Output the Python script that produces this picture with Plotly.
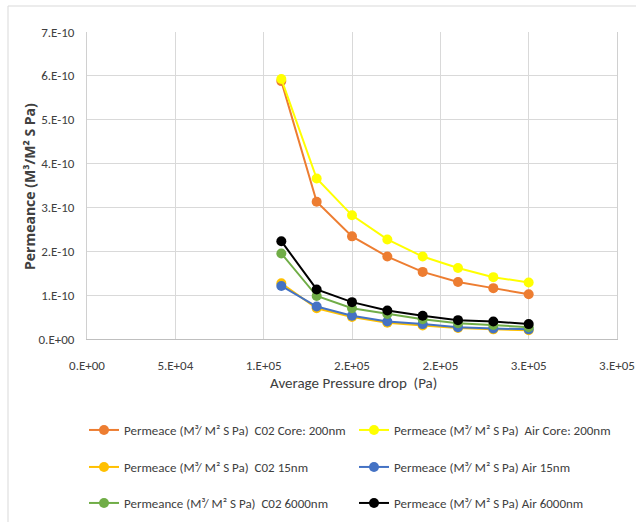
import plotly.graph_objects as go

# ---- data ----
pressure_pa = [110000, 130000, 150000, 170000, 190000, 210000, 230000, 250000]

co2_core_200 = [5.88e-10, 3.13e-10, 2.34e-10, 1.88e-10, 1.53e-10, 1.30e-10, 1.16e-10, 1.02e-10]
air_core_200 = [5.93e-10, 3.66e-10, 2.82e-10, 2.27e-10, 1.88e-10, 1.62e-10, 1.41e-10, 1.29e-10]
co2_15 = [1.27e-10, 0.70e-10, 0.50e-10, 0.37e-10, 0.31e-10, 0.25e-10, 0.22e-10, 0.20e-10]
air_15 = [1.21e-10, 0.74e-10, 0.53e-10, 0.40e-10, 0.34e-10, 0.27e-10, 0.24e-10, 0.22e-10]
co2_6000 = [1.95e-10, 0.98e-10, 0.70e-10, 0.57e-10, 0.45e-10, 0.36e-10, 0.32e-10, 0.27e-10]
air_6000 = [2.23e-10, 1.13e-10, 0.84e-10, 0.65e-10, 0.53e-10, 0.43e-10, 0.40e-10, 0.34e-10]

series_names = [
    "Permeace (M³/ M² S Pa)  C02 Core: 200nm",
    "Permeace (M³/ M² S Pa)  Air Core: 200nm",
    "Permeace (M³/ M² S Pa)  C02 15nm",
    "Permeace (M³/ M² S Pa) Air 15nm",
    "Permeance (M³/ M² S Pa)  C02 6000nm",
    "Permeace (M³/ M² S Pa) Air 6000nm",
]
series_values = [co2_core_200, air_core_200, co2_15, air_15, co2_6000, air_6000]
series_colors = ["#ED7D31", "#FFFF00", "#FFC000", "#4472C4", "#70AD47", "#000000"]
series_legends = ["legend", "legend", "legend2", "legend2", "legend3", "legend3"]

x_tickvals = [0, 50000, 100000, 150000, 200000, 250000, 300000]
x_ticktext = ["0.E+00", "5.E+04", "1.E+05", "2.E+05", "2.E+05", "3.E+05", "3.E+05"]
y_tickvals = [0, 1e-10, 2e-10, 3e-10, 4e-10, 5e-10, 6e-10, 7e-10]
y_ticktext = ["0.E+00", "1.E-10", "2.E-10", "3.E-10", "4.E-10", "5.E-10", "6.E-10", "7.E-10"]

x_title = "Average Pressure drop  (Pa)"
y_title = "<b>Permeance (M³/M² S Pa)</b>"

FONT = "Carlito, 'Liberation Sans Narrow', Lato, sans-serif"
TXT = "#404040"

fig = go.Figure()
for name, vals, col, lg in zip(series_names, series_values, series_colors, series_legends):
    fig.add_trace(go.Scatter(
        x=pressure_pa, y=vals, name=name, mode="lines+markers",
        line=dict(color=col, width=2),
        marker=dict(color=col, size=10),
        legend=lg,
    ))

W, H = 636, 522
L, R, T, B = 87, 19, 32, 183
pw, ph = W - L - R, H - T - B

def px2py(y):
    return (H - B - y) / ph

def px2px(x):
    return (x - L) / pw

legend_common = dict(
    orientation="h", xanchor="left", yanchor="middle",
    x=px2px(84), bgcolor="rgba(0,0,0,0)",
    font=dict(family=FONT, size=13, color=TXT),
    entrywidth=225, entrywidthmode="pixels",
)

fig.update_layout(
    width=W, height=H,
    margin=dict(l=L, r=R, t=T, b=B, autoexpand=False),
    paper_bgcolor="white", plot_bgcolor="white",
    showlegend=True,
    legend=dict(legend_common, y=px2py(430)),
    legend2=dict(legend_common, y=px2py(467)),
    legend3=dict(legend_common, y=px2py(503)),
    xaxis=dict(
        range=[0, 300000], tickmode="array", tickvals=x_tickvals, ticktext=x_ticktext,
        showgrid=True, gridcolor="#D9D9D9", gridwidth=1,
        showline=True, linecolor="#BFBFBF", linewidth=1,
        zeroline=False, ticks="", ticklabelstandoff=14,
        tickfont=dict(family=FONT, size=13, color=TXT),
        automargin=False,
    ),
    yaxis=dict(
        range=[0, 7e-10], tickmode="array", tickvals=y_tickvals, ticktext=y_ticktext,
        showgrid=True, gridcolor="#D9D9D9", gridwidth=1,
        showline=True, linecolor="#D0D0D0", linewidth=1, mirror=True,
        zeroline=False, ticks="", ticklabelstandoff=9,
        tickfont=dict(family=FONT, size=13, color=TXT),
        automargin=False,
    ),
    annotations=[
        dict(text=x_title, xref="paper", yref="paper", x=px2px(353), y=px2py(383),
             xanchor="center", yanchor="middle", showarrow=False,
             font=dict(family=FONT, size=15, color=TXT)),
        dict(text=y_title, xref="paper", yref="paper", x=px2px(29), y=px2py(187),
             xanchor="center", yanchor="middle", showarrow=False, textangle=-90,
             font=dict(family="'Open Sans', sans-serif", size=14, color=TXT)),
    ],
    shapes=[dict(
        type="rect", xref="paper", yref="paper",
        x0=px2px(8), x1=px2px(645), y0=px2py(530), y1=px2py(6),
        line=dict(color="#D9D9D9", width=1), fillcolor="rgba(0,0,0,0)", layer="below",
    )],
)

fig.write_html("out.html")
